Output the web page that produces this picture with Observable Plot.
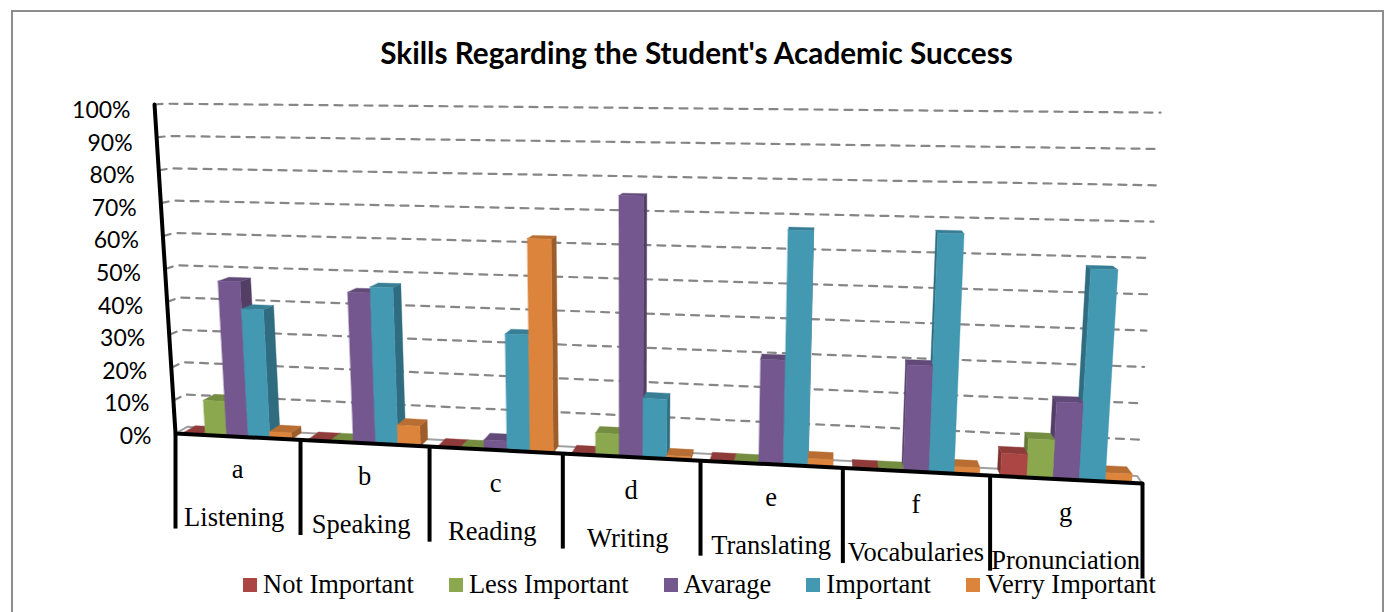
<!DOCTYPE html>
<html>
<head>
<meta charset="utf-8">
<script src="https://cdn.jsdelivr.net/npm/d3@7"></script>
<script src="https://cdn.jsdelivr.net/npm/@observablehq/plot@0.6"></script>
<style>
html,body{margin:0;padding:0;background:#fff;}
#frame{position:relative;width:1391px;height:612px;overflow:hidden;}
#border{position:absolute;left:11px;top:10px;width:1369px;height:640px;border:2.5px solid #8e8e8e;}
#title{position:absolute;left:0;top:35px;width:1393px;text-align:center;font:bold 29.7px Lato,sans-serif;color:#000;white-space:nowrap;}
#chart{position:absolute;left:0;top:80px;}
#legend{position:absolute;left:243px;top:569px;display:flex;align-items:center;font:26.5px "Liberation Serif",serif;color:#000;white-space:nowrap;}
#legend span.item{display:flex;align-items:center;margin-right:35px;}
#legend i{display:inline-block;width:14px;height:14px;margin-right:6px;}
</style>
</head>
<body>
<div id="frame">
  <div id="border"></div>
  <div id="title">Skills Regarding the Student's Academic Success</div>
  <div id="chart"></div>
  <div id="legend"></div>
</div>
<script>
const groups = ["a","b","c","d","e","f","g"];
const skills = ["Listening","Speaking","Reading","Writing","Translating","Vocabularies","Pronunciation"];
const seriesNames = ["Not Important","Less Important","Avarage","Important","Verry Important"];
const seriesColors = ["#ab4644","#8ba84e","#74578f","#4398b2","#dc843c"];
const notImportant   = [0.5, 0.5, 0.5, 0.5, 0.5, 0.5, 6.3];
const lessImportant  = [10.5, 0.5, 0.5, 6.4, 0.5, 0.5, 10.6];
const avarage        = [46.8, 44.7, 2.8, 75, 29.5, 29.5, 21];
const important      = [38.6, 46.5, 34, 17, 66.2, 66.3, 57.5];
const verryImportant = [2, 5.9, 62, 1, 2.2, 2, 2.4];
const seriesValues = [notImportant, lessImportant, avarage, important, verryImportant];
const yTicks = [0,10,20,30,40,50,60,70,80,90,100];

// 3D look: a perspective front plane, extruded a little toward a vanishing point.
const persp = u => { const t = u / groups.length; return t / (1 + 0.1225 * (1 - t)); };
const front = (u, v) => {
  const s = persp(u);
  return {x: s + (-0.000217 + 0.000465 * s) * v, y: -15.15 * s + v * (0.997 + 0.124 * s)};
};
const vanish = {x: 0.677, y: 113}, depth = 0.0178;
const back = p => ({x: p.x + depth * (vanish.x - p.x), y: p.y + depth * (vanish.y - p.y)});

const grid = [];
yTicks.filter(v => v > 0).forEach(v => {
  const a = front(0, v);
  [a, back(a), back(front(groups.length, v))].forEach(p => grid.push({...p, id: v}));
});

const f00 = front(0,0), f70 = front(groups.length,0);
const floor = [f00, back(f00), back(f70), f70];

const barGap = 0.07, barWidth = 0.172;
const bars = [];
groups.forEach((g, i) => seriesNames.forEach((n, j) => {
  const u0 = i + barGap + j * barWidth, u1 = u0 + barWidth, v = seriesValues[j][i];
  bars.push({u0, u1, v, color: seriesColors[j], id: g + j, dist: Math.abs(persp((u0 + u1) / 2) - vanish.x)});
}));
bars.sort((a, b) => b.dist - a.dist);
const faces = [];
const addFace = (id, c, pts) => pts.forEach(p => faces.push({x: p.x, y: p.y, id, c}));
bars.forEach(b => {
  const bl = front(b.u0,0), br = front(b.u1,0), tl = front(b.u0,b.v), tr = front(b.u1,b.v);
  const rightSide = persp((b.u0 + b.u1) / 2) < vanish.x;
  const [e0, e1] = rightSide ? [br, tr] : [bl, tl];
  addFace(b.id + "s", d3.color(b.color).darker(0.95).formatHex(), [e0, e1, back(e1), back(e0)]);
  addFace(b.id + "t", d3.color(b.color).darker(0.5).formatHex(), [tl, tr, back(tr), back(tl)]);
  addFace(b.id + "f", b.color, [bl, br, tr, tl]);
});

const edges = d3.range(groups.length + 1).map(i => ({...front(i, 0), i}));
const labelPts = groups.map((g, i) => ({...front(i + 0.5, 0), g, skill: skills[i], shift: i < 4 ? 0.0035 : 0}));
const tickDrop = edges.flatMap(e => [{x: e.x, y: e.y, i: e.i}, {x: e.x, y: e.y - 28.8, i: e.i}]);
const serif = "Liberation Serif";

const plot = Plot.plot({
  width: 1391, height: 500,
  marginLeft: 175, marginRight: 249, marginTop: 23, marginBottom: 147,
  x: {domain: [0, 1], axis: null},
  y: {domain: [0, 100], axis: null},
  color: {type: "identity"},
  style: {background: "transparent", overflow: "visible"},
  marks: [
    Plot.line(grid, {x: "x", y: "y", z: "id", stroke: "#868686", strokeWidth: 2.2, strokeDasharray: "8,7"}),
    Plot.line(floor, {x: "x", y: "y", curve: "linear-closed", stroke: "#a0a0a0", strokeWidth: 2, fill: "#fff"}),
    Plot.line(faces, {x: "x", y: "y", z: "id", fill: "c", stroke: "c", strokeWidth: 0.4, curve: "linear-closed"}),
    Plot.line(tickDrop, {x: "x", y: "y", z: "i", stroke: "#000", strokeWidth: 4, strokeLinecap: "butt"}),
    Plot.line([front(0,100), front(0,0), front(groups.length,0)], {x: "x", y: "y", stroke: "#000", strokeWidth: 4, strokeLinejoin: "miter"}),
    Plot.text(yTicks, {x: v => front(0, v).x, y: v => front(0, v).y * 0.99, text: v => v + "%", textAnchor: "end", dx: -24, dy: 3, fontSize: 23, fontFamily: "Lato", fill: "#000"}),
    Plot.text(labelPts, {x: "x", y: "y", text: "g", dy: 33, fontSize: 26.5, fontFamily: serif, fill: "#000"}),
    Plot.text(labelPts, {x: d => d.x - d.shift, y: "y", text: "skill", dy: 81, fontSize: 26.5, fontFamily: serif, fill: "#000"})
  ]
});
document.getElementById("chart").appendChild(plot);

const legend = document.getElementById("legend");
seriesNames.forEach((n, j) => {
  const item = document.createElement("span");
  item.className = "item";
  const sw = document.createElement("i");
  sw.style.background = seriesColors[j];
  item.appendChild(sw);
  item.appendChild(document.createTextNode(n));
  legend.appendChild(item);
});
</script>
</body>
</html>
